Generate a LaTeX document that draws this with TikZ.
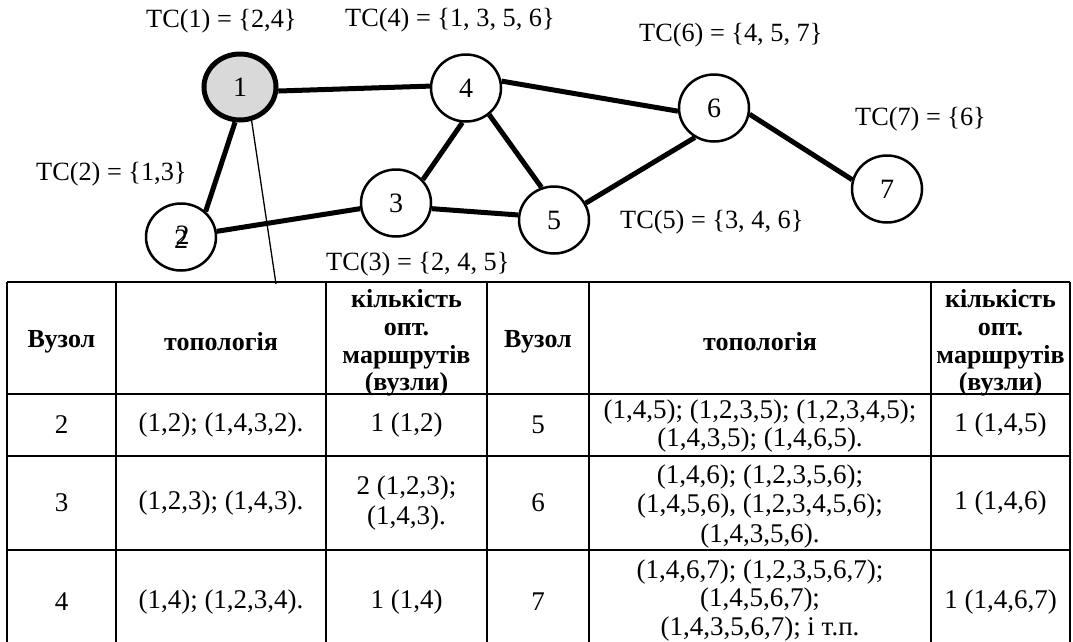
\documentclass[tikz,border=0pt]{standalone}
\usepackage{fontspec}
\setmainfont{Liberation Serif}
\usetikzlibrary{shapes.geometric}
\definecolor{nodegray}{HTML}{D9D9D9}
\begin{document}
\begin{tikzpicture}[x=1pt,y=-1pt,
  txt/.style={font=\fontsize{26.3}{28}\selectfont, inner sep=0pt},
  vertex/.style={draw, ellipse, line width=2.5pt, fill=white, minimum width=70pt, minimum height=67pt, inner sep=0pt, font=\fontsize{28}{30}\selectfont},
  startv/.style={vertex, line width=5pt, fill=nodegray, minimum width=72pt, minimum height=66pt},
  link/.style={line width=5pt},
  thinlink/.style={line width=1.3pt},
  lbl/.style={txt, anchor=west},
  cell/.style={inner sep=0pt, align=center, font=\fontsize{27}{29.5}\selectfont},
  tightcell/.style={cell, font=\fontsize{27}{28.5}\selectfont},
  head/.style={inner sep=0pt, align=center, font=\fontsize{26}{27.6}\selectfont\bfseries},
  grid/.style={line width=2pt}
]
\useasboundingbox (0,0) rectangle (1073,641);

% graph
\node[startv] (n1) at (240,87) {1};
\node[vertex] (n4) at (466,88) {4};
\node[vertex] (n2) at (181,237) {\rlap{\raisebox{3.5pt}{\hspace{1.5pt}2}}2};
\node[vertex] (n3) at (396,203) {3};
\node[vertex] (n5) at (554,220) {5};
\node[vertex] (n6) at (714,108) {6};
\node[vertex] (n7) at (887,189) {7};

\draw[link] (n1.-6) -- (n4.177);
\draw[link] (n1.262) -- (n2.46);
\draw[link] (n4.11) -- (n6.185);
\draw[link] (n4.264) -- (n3.41);
\draw[link] (n4.-49) -- (n5.111);
\draw[link] (n3.-9) -- (n5.172);
\draw[link] (n2) -- (n3);
\draw[link] (n5.28) -- (n6.237);
\draw[link] (n6.-10) -- (n7.165);

\coordinate (tabtop) at (276,284);
\draw[thinlink] (n1.-71) -- (tabtop);

% labels
\node[lbl] (l1) at (146,21) {TC(1) = \{2,4\}};
\node[lbl] (l4) at (345,20) {TC(4) = \{1, 3, 5, 6\}};
\node[lbl] (l6) at (639,35) {TC(6) = \{4, 5, 7\}};
\node[lbl] (l7) at (855,119) {TC(7) = \{6\}};
\node[lbl] (l2) at (36,174) {TC(2) = \{1,3\}};
\node[lbl] (l3) at (326,264) {TC(3) = \{2, 4, 5\}};
\node[lbl] (l5) at (620,222) {TC(5) = \{3, 4, 6\}};

% table grid
\draw[grid] (7,282) -- (1070,282);
\draw[grid] (7,394) -- (1070,394);
\draw[grid] (7,456) -- (1070,456);
\draw[grid] (7,550) -- (1070,550);
\foreach \xx in {7,116,326,487,589,931,1070} \draw[grid] (\xx,282) -- (\xx,660);

% header
\node[head] (h1) at (61.5,342) {Вузол};
\node[head] (h2) at (221,342) {топологія};
\node[head] (h3) at (406.5,343) {кількість\\опт.\\маршрутів\\(вузли)};
\node[head] (h4) at (538,342) {Вузол};
\node[head] (h5) at (760,342) {топологія};
\node[head] (h6) at (1000.5,343) {кількість\\опт.\\маршрутів\\(вузли)};

% rows
\node[cell] (a1) at (61.5,425) {2};
\node[cell] (a2) at (221,425) {(1,2); (1,4,3,2).};
\node[cell] (a3) at (406.5,425) {1 (1,2)};
\node[cell] (a4) at (538,425) {5};
\node[tightcell] (a5) at (760,426) {(1,4,5); (1,2,3,5); (1,2,3,4,5);\\(1,4,3,5); (1,4,6,5).};
\node[cell] (a6) at (1000.5,425) {1 (1,4,5)};

\node[cell] (b1) at (61.5,503) {3};
\node[cell] (b2) at (221,503) {(1,2,3); (1,4,3).};
\node[cell] (b3) at (406.5,503) {2 (1,2,3);\\(1,4,3).};
\node[cell] (b4) at (538,503) {6};
\node[cell] (b5) at (760,506) {(1,4,6); (1,2,3,5,6);\\(1,4,5,6), (1,2,3,4,5,6);\\(1,4,3,5,6).};
\node[cell] (b6) at (1000.5,503) {1 (1,4,6)};

\node[cell] (c1) at (61.5,602) {4};
\node[cell] (c2) at (221,602) {(1,4); (1,2,3,4).};
\node[cell] (c3) at (406.5,602) {1 (1,4)};
\node[cell] (c4) at (538,602) {7};
\node[tightcell] (c5) at (760,600) {(1,4,6,7); (1,2,3,5,6,7);\\(1,4,5,6,7);\\(1,4,3,5,6,7); і т.п.};
\node[cell] (c6) at (1000.5,602) {1 (1,4,6,7)};
\end{tikzpicture}
\end{document}
